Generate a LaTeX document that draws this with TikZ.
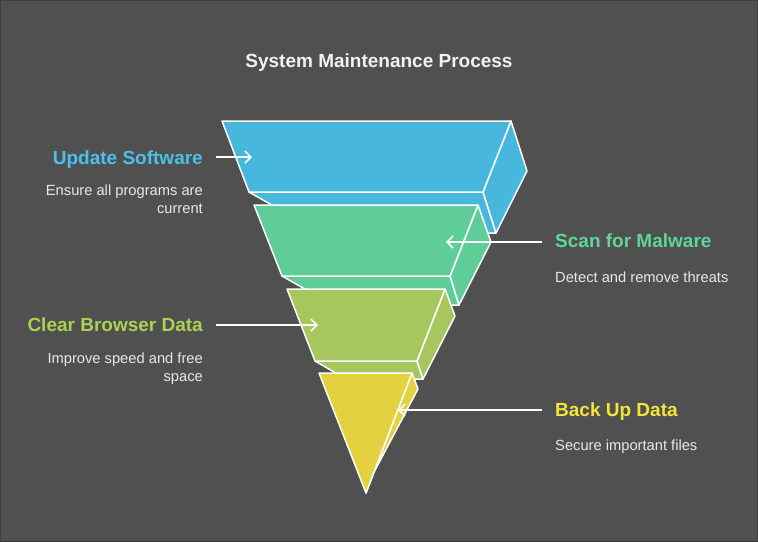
\documentclass[tikz,border=0pt]{standalone}
\usepackage{fontspec}
\setmainfont{Liberation Sans}
\usetikzlibrary{arrows.meta}
\definecolor{bgcol}{RGB}{80,80,80}
\definecolor{rimcol}{RGB}{62,62,62}
\definecolor{notecol}{RGB}{232,232,232}
\definecolor{bluef}{RGB}{71,183,222}
\definecolor{greenf}{RGB}{94,205,151}
\definecolor{limef}{RGB}{165,199,94}
\definecolor{yellowf}{RGB}{228,209,64}
\definecolor{bluet}{RGB}{76,192,236}
\definecolor{greent}{RGB}{95,214,152}
\definecolor{limet}{RGB}{170,211,82}
\definecolor{yellowt}{RGB}{245,228,58}

\begin{document}
\begin{tikzpicture}[x=1pt,y=-1pt,
		face/.style={draw=white,line width=1.5pt,line join=round},
		link/.style={draw=white,line width=1.5pt,-{Straight Barb[length=6pt,width=12pt]}},
		head/.style={font=\fontsize{19}{22}\selectfont\bfseries,inner sep=0pt},
		note/.style={font=\fontsize{14.7}{18}\selectfont,text=notecol,inner sep=0pt}]
			\fill[bgcol,draw=rimcol,line width=1pt] (0.5,0.5) rectangle (757.5,541.5);
			\useasboundingbox (0,0) rectangle (758,542);
			\node[head,text=white!95!black,anchor=base] (title) at (379,67) {System Maintenance Process};
			% funnel layers, top to bottom
			\filldraw[face,fill=bluef] (249,192) -- (483,192) -- (496,233) -- (321,233) -- cycle;
			\filldraw[face,fill=bluef] (511,121) -- (527,171) -- (496,233) -- (483,192) -- cycle;
			\filldraw[face,fill=bluef] (222,121) -- (511,121) -- (483,192) -- (249,192) -- cycle;
			\filldraw[face,fill=greenf] (282,276) -- (450,276) -- (459,305) -- (333,305) -- cycle;
			\filldraw[face,fill=greenf] (478,205) -- (491,242) -- (459,305) -- (450,276) -- cycle;
			\filldraw[face,fill=greenf] (254,205) -- (478,205) -- (450,276) -- (282,276) -- cycle;
			\filldraw[face,fill=limef] (315,361) -- (417,361) -- (423,379) -- (346,379) -- cycle;
			\filldraw[face,fill=limef] (445,289) -- (455,316) -- (423,379) -- (417,361) -- cycle;
			\filldraw[face,fill=limef] (287,289) -- (445,289) -- (417,361) -- (315,361) -- cycle;
			\filldraw[face,fill=yellowf] (412,373) -- (418,389) -- (373,474) -- (366,493) -- cycle;
			\filldraw[face,fill=yellowf] (319,373) -- (412,373) -- (366,493) -- cycle;
			% labels
			\node[head,text=bluet,anchor=base east] (upd) at (203,164) {Update Software};
			\node[note,align=right,anchor=north east] (upd-note) at (203,184.5) {Ensure all programs are\\current};
			\node[head,text=greent,anchor=base west] (scan) at (555,247) {Scan for Malware};
			\node[note,align=left,anchor=north west] (scan-note) at (555,271.5) {Detect and remove threats};
			\node[head,text=limet,anchor=base east] (clear) at (203,331) {Clear Browser Data};
			\node[note,align=right,anchor=north east] (clear-note) at (203,352.5) {Improve speed and free\\space};
			\node[head,text=yellowt,anchor=base west] (backup) at (555,416) {Back Up Data};
			\node[note,align=left,anchor=north west] (backup-note) at (555,439.5) {Secure important files};
			% pointers
			\coordinate (upd-out) at (216,157);
			\coordinate (upd-in) at (252,157);
			\coordinate (scan-out) at (542,242);
			\coordinate (scan-in) at (446,242);
			\coordinate (clear-out) at (216,325);
			\coordinate (clear-in) at (318,325);
			\coordinate (backup-out) at (542,410);
			\coordinate (backup-in) at (398,410);
			\path[every edge/.append style={link}]
			(upd-out) edge (upd-in)
			(scan-out) edge (scan-in)
			(clear-out) edge (clear-in)
			(backup-out) edge (backup-in);
		\end{tikzpicture}
\end{document}
